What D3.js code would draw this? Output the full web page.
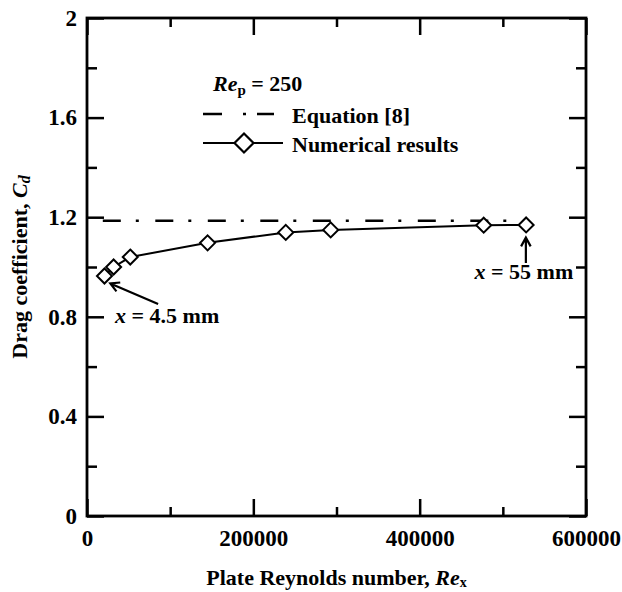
<!DOCTYPE html>
<html>
<head>
<meta charset="utf-8">
<script src="https://cdn.jsdelivr.net/npm/d3@7"></script>
<style>
  html, body { margin: 0; padding: 0; background: #fff; }
  svg text { font-family: "Liberation Serif", "Times New Roman", serif; font-weight: bold; fill: #000; }
</style>
</head>
<body>
<svg id="chart" width="622" height="592"></svg>
<script>
// ---- data ----
const reynolds = [21000, 32000, 52000, 145000, 239000, 293000, 477000, 528000];
const dragCoef = [0.964, 1.000, 1.040, 1.097, 1.139, 1.149, 1.168, 1.169];
const equationValue = 1.186;
const equationRange = [19000, 510000];
const xMajorTicks = [0, 200000, 400000, 600000];
const xMinorTicks = [100000, 300000, 500000];
const yMajorTicks = [0, 0.4, 0.8, 1.2, 1.6, 2];
const yMinorTicks = [0.2, 0.6, 1.0, 1.4, 1.8];
const yTickLabels = ["0", "0.4", "0.8", "1.2", "1.6", "2"];

const svg = d3.select("#chart");
const m = {left: 87, right: 586, top: 18, bottom: 516};

const x = d3.scaleLinear().domain([0, 600000]).range([m.left, m.right]);
const y = d3.scaleLinear().domain([0, 2]).range([m.bottom, m.top]);

const FS = 22;

// ---- axes ----
function styleAxis(g) {
  g.select(".domain").remove();
  g.selectAll(".tick line").attr("stroke", "#000").attr("stroke-width", 2.5);
  g.selectAll(".tick text").attr("font-size", 23).attr("font-family", null);
}

svg.append("g").attr("transform", `translate(0,${m.bottom})`)
  .call(d3.axisBottom(x).tickValues(xMajorTicks).tickSize(-17).tickPadding(14).tickFormat(d3.format("d")))
  .call(styleAxis);
svg.append("g").attr("transform", `translate(0,${m.bottom})`)
  .call(d3.axisBottom(x).tickValues(xMinorTicks).tickSize(-9).tickFormat(""))
  .call(styleAxis);
svg.append("g").attr("transform", `translate(0,${m.top})`)
  .call(d3.axisTop(x).tickValues(xMajorTicks).tickSize(-17).tickFormat(""))
  .call(styleAxis);
svg.append("g").attr("transform", `translate(0,${m.top})`)
  .call(d3.axisTop(x).tickValues(xMinorTicks).tickSize(-9).tickFormat(""))
  .call(styleAxis);

svg.append("g").attr("transform", `translate(${m.left},0)`)
  .call(d3.axisLeft(y).tickValues(yMajorTicks).tickSize(-17).tickPadding(10)
        .tickFormat((d, i) => yTickLabels[i]))
  .call(styleAxis);
svg.append("g").attr("transform", `translate(${m.left},0)`)
  .call(d3.axisLeft(y).tickValues(yMinorTicks).tickSize(-10).tickFormat(""))
  .call(styleAxis);
svg.append("g").attr("transform", `translate(${m.right},0)`)
  .call(d3.axisRight(y).tickValues(yMajorTicks).tickSize(-17).tickFormat(""))
  .call(styleAxis);
svg.append("g").attr("transform", `translate(${m.right},0)`)
  .call(d3.axisRight(y).tickValues(yMinorTicks).tickSize(-10).tickFormat(""))
  .call(styleAxis);

// frame
svg.append("rect")
  .attr("x", x(0)).attr("y", y(2))
  .attr("width", x(600000) - x(0)).attr("height", y(0) - y(2))
  .attr("fill", "none").attr("stroke", "#000").attr("stroke-width", 2.8);

// ---- equation line ----
svg.append("line")
  .attr("x1", x(equationRange[0])).attr("x2", x(equationRange[1]))
  .attr("y1", y(equationValue)).attr("y2", y(equationValue))
  .attr("stroke", "#000").attr("stroke-width", 2.5)
  .attr("stroke-dasharray", "18,15,3,16.5");

// ---- numerical results ----
const pts = reynolds.map((r, i) => [r, dragCoef[i]]);
svg.append("path")
  .datum(pts)
  .attr("d", d3.line().x(d => x(d[0])).y(d => y(d[1])))
  .attr("fill", "none").attr("stroke", "#000").attr("stroke-width", 2);

const diamondType = {
  draw(ctx, size) {
    const r = Math.sqrt(size / 2);
    ctx.moveTo(0, -r); ctx.lineTo(r, 0); ctx.lineTo(0, r); ctx.lineTo(-r, 0); ctx.closePath();
  }
};
svg.append("g").selectAll("path").data(pts).join("path")
  .attr("transform", d => `translate(${x(d[0])},${y(d[1])})`)
  .attr("d", d3.symbol(diamondType, 2 * 7.5 * 7.5))
  .attr("fill", "#fff").attr("stroke", "#000").attr("stroke-width", 2);

// ---- legend ----
const lg = svg.append("g");
const t0 = lg.append("text").attr("x", 213).attr("y", 91).attr("font-size", FS);
t0.append("tspan").attr("font-style", "italic").text("Re");
t0.append("tspan").attr("font-size", 15).attr("dy", 4).text("p");
t0.append("tspan").attr("dy", -4).text(" = 250");

lg.append("line").attr("x1", 203).attr("x2", 274).attr("y1", 114).attr("y2", 114)
  .attr("stroke", "#000").attr("stroke-width", 2.5).attr("stroke-dasharray", "19,21,3,11,17");
lg.append("text").attr("x", 292).attr("y", 123).attr("font-size", FS).text("Equation [8]");

lg.append("line").attr("x1", 203).attr("x2", 283).attr("y1", 143).attr("y2", 143)
  .attr("stroke", "#000").attr("stroke-width", 2);
lg.append("path").attr("transform", "translate(244,143)")
  .attr("d", d3.symbol(diamondType, 2 * 9.5 * 9.5))
  .attr("fill", "#fff").attr("stroke", "#000").attr("stroke-width", 2.2);
lg.append("text").attr("x", 292).attr("y", 152).attr("font-size", FS).text("Numerical results");

// ---- annotations ----
function arrow(fromD, toD) {
  const x1 = x(fromD[0]), y1 = y(fromD[1]), x2 = x(toD[0]), y2 = y(toD[1]);
  const ang = Math.atan2(y2 - y1, x2 - x1);
  const L = 10, a = 0.5;
  const p = d3.path();
  p.moveTo(x1, y1); p.lineTo(x2, y2);
  p.moveTo(x2 - L * Math.cos(ang - a), y2 - L * Math.sin(ang - a));
  p.lineTo(x2, y2);
  p.lineTo(x2 - L * Math.cos(ang + a), y2 - L * Math.sin(ang + a));
  svg.append("path").attr("d", p.toString()).attr("fill", "none")
    .attr("stroke", "#000").attr("stroke-width", 2.2);
}
arrow([85500, 0.851], [28000, 0.934]);
arrow([527700, 1.016], [527700, 1.118]);

function annot(xd, yd, val, anchor) {
  const t = svg.append("text").attr("x", x(xd)).attr("y", y(yd))
    .attr("font-size", FS).attr("text-anchor", anchor);
  t.append("tspan").attr("font-style", "italic").text("x");
  t.append("tspan").text(" = " + val + " mm");
}
annot(33700, 0.775, "4.5", "start");
annot(466000, 0.953, "55", "start");

// ---- axis titles ----
const xt = svg.append("text").attr("x", (m.left + m.right) / 2).attr("y", 585)
  .attr("text-anchor", "middle").attr("font-size", FS);
xt.append("tspan").text("Plate Reynolds number, ");
xt.append("tspan").attr("font-style", "italic").text("Re");
xt.append("tspan").attr("font-size", 14).attr("dy", 2).text("x");

const yt = svg.append("text")
  .attr("transform", `translate(27,${(m.top + m.bottom) / 2}) rotate(-90)`)
  .attr("text-anchor", "middle").attr("font-size", FS);
yt.append("tspan").text("Drag coefficient, ");
yt.append("tspan").attr("font-style", "italic").text("C");
yt.append("tspan").attr("font-style", "italic").attr("font-size", 16).attr("dy", 3).text("d");
</script>
</body>
</html>
